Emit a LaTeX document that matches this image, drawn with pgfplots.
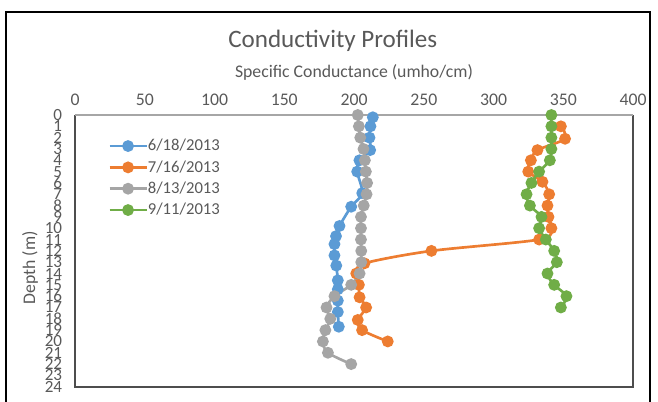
\documentclass[border=0pt]{standalone}
\usepackage{fontspec}
\setmainfont{Carlito}
\usepackage{pgfplots}
\pgfplotsset{compat=1.18}
\definecolor{sblue}{HTML}{5B9BD5}
\definecolor{sorange}{HTML}{ED7D31}
\definecolor{sgray}{HTML}{A5A5A5}
\definecolor{sgreen}{HTML}{70AD47}
\definecolor{textgray}{HTML}{595959}
\definecolor{topgray}{HTML}{A6A6A6}
\definecolor{framegray}{HTML}{4D4D4D}
\begin{document}
\begin{tikzpicture}
\path[use as bounding box] (0,0) rectangle (493.5pt,300.75pt);
\draw[line width=1.5pt, black] (4.5pt,-2pt) -- (4.5pt,291.75pt) -- (487.5pt,291.75pt) -- (487.5pt,-2pt);
\begin{axis}[
  at={(56.25pt,10.7pt)}, anchor=south west,
  scale only axis, width=418.5pt, height=203.8pt,
  xmin=0, xmax=400, ymin=0, ymax=24, y dir=reverse,
  xtick={0,50,...,400}, ytick={0,1,...,24},
  xticklabel pos=right,
  major tick length=0pt,
  axis line style={draw=none},
  clip=false,
  /pgf/number format/assume math mode=true,
  tick label style={font=\fontsize{13.3}{13.3}\selectfont, text=textgray},
  xticklabel style={anchor=center, yshift=11.25pt},
  yticklabel style={anchor=east, inner sep=0pt, xshift=-9.5pt, font=\fontsize{12.8}{12.8}\selectfont},
  title={Conductivity Profiles},
  title style={font=\fontsize{18.8}{20}\selectfont, text=textgray, at={(axis description cs:0.462,1.243)}, anchor=center},
  xlabel={Specific Conductance (umho/cm)},
  xlabel style={at={(axis description cs:0.5,1.158)}, anchor=center, font=\fontsize{13.3}{14}\selectfont, text=textgray},
  ylabel={Depth (m)},
  ylabel style={at={(axis description cs:-0.0806,0.438)}, anchor=center, font=\fontsize{13.3}{14}\selectfont, text=textgray},
  every axis plot/.append style={line width=2pt, smooth, mark=*, mark size=3.4pt, mark options={line width=0pt}},
  legend image code/.code={\draw[mark repeat=2,mark phase=2] plot coordinates {(0pt,0pt) (13.9pt,0pt) (27.75pt,0pt)};},
  legend style={at={(axis description cs:0.059,0.768)}, anchor=west, draw=none, fill=none, inner sep=0pt,
    font=\fontsize{12.5}{13}\selectfont, text=textgray, row sep=5pt,
    nodes={inner sep=0pt, text height=9pt, text depth=2pt}},
  legend cell align=left,
  /tikz/every even column/.append style={column sep=3pt},
]
\draw[framegray, line width=1.5pt] (axis description cs:0,1) -- (axis description cs:0,0) -- (axis description cs:1,0) -- (axis description cs:1,1);
\draw[topgray, line width=1.5pt] (axis description cs:0,1) -- (axis description cs:1,1);

\addplot[color=sblue, mark options={fill=sblue, draw=sblue}] coordinates {
(213.5,0.2) (211.8,1.0) (211.1,2.0) (211.6,3.1) (203.9,4.0) (202.3,5.0) (205.9,6.9) (198,8.1) (189.6,9.8) (187.1,10.7) (186,11.4) (186,12.4) (187.3,13.3) (188.4,14.6) (188.4,15.4) (188.4,16.4) (188.4,17.4) (189.1,18.7)
};
\addlegendentry{6/18/2013}
\addplot[color=sorange, mark options={fill=sorange, draw=sorange}] coordinates {
(348.3,1) (351.3,2.1) (331.5,3.1) (326.8,4) (324.9,5) (335.1,5.9) (339.9,7) (338.7,8) (339.4,9) (341.5,10) (332.7,11) (255.5,12) (207.5,13.1) (201.6,14) (203.5,15) (204,16.1) (208.7,17) (202.7,18.1) (205.8,19) (224.2,20)
};
\addlegendentry{7/16/2013}
\addplot[color=sgray, mark options={fill=sgray, draw=sgray}] coordinates {
(202.7,0) (203.5,1) (204.5,2) (206.8,3) (207.8,4) (208.5,5) (209.4,6) (209,7) (207,8) (205,9) (205,10) (205,11) (205.2,12) (205.2,13) (204,14) (198,15) (186,16) (180.3,17) (183,18) (179.5,19) (177.7,20) (181.3,21) (198,22)
};
\addlegendentry{8/13/2013}
\addplot[color=sgreen, mark options={fill=sgreen, draw=sgreen}] coordinates {
(341.5,0) (341.5,1) (341.5,2) (341.5,3) (340.4,4) (332.7,5) (327.2,6) (323.7,7) (326.1,8) (334.4,9) (332.7,10) (337.5,11) (343.5,12) (345.4,13) (338.7,14) (343.5,15) (352.3,16) (348.3,17)
};
\addlegendentry{9/11/2013}
\end{axis}
\end{tikzpicture}
\end{document}
